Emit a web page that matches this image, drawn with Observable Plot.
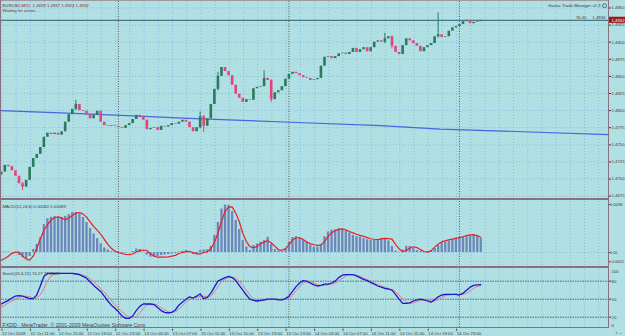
<!DOCTYPE html>
<html><head><meta charset="utf-8">
<script src="https://cdn.jsdelivr.net/npm/d3@7"></script>
<script src="https://cdn.jsdelivr.net/npm/@observablehq/plot@0.6"></script>
<style>
html,body{margin:0;padding:0;background:#b0dfe4;}
#chart{position:relative;width:625px;height:336px;overflow:hidden;background:#b0dfe4;}
.ln{position:absolute;background:#8b6f7e;}
</style></head><body><div id="chart"></div>
<script>
// ---------- data ----------
// EURUSD M15 chart, one entry per half hour starting 12 Oct 2009 07:30
const firstOpen = 1.4706;
const closes = [1.4710,1.4720,1.4718,1.4712,1.4704,1.4693,1.4688,1.4698,1.4717,1.4730,
 1.4736,1.4746,1.4761,1.4767,1.4765,1.4767,1.4764,1.4769,1.4783,1.4794,
 1.4802,1.4809,1.4800,1.4799,1.4794,1.4788,1.4793,1.4799,1.4783,1.4778,
 1.4777,1.4778,1.4777,1.4775,1.4774,1.4778,1.4781,1.4787,1.4793,1.4791,
 1.4786,1.4772,1.4774,1.4775,1.4771,1.4777,1.4776,1.4778,1.4781,1.4780,
 1.4783,1.4786,1.4783,1.4775,1.4769,1.4775,1.4791,1.4777,1.4788,1.4809,
 1.4831,1.4850,1.4863,1.4857,1.4851,1.4837,1.4824,1.4818,1.4812,1.4816,
 1.4815,1.4832,1.4834,1.4835,1.4847,1.4844,1.4816,1.4826,1.4829,1.4835,
 1.4846,1.4853,1.4856,1.4854,1.4851,1.4848,1.4847,1.4844,1.4845,1.4847,
 1.4865,1.4878,1.4879,1.4876,1.4879,1.4883,1.4884,1.4882,1.4885,1.4891,
 1.4885,1.4889,1.4892,1.4886,1.4892,1.4900,1.4902,1.4900,1.4905,1.4908,
 1.4894,1.4885,1.4882,1.4895,1.4905,1.4902,1.4898,1.4894,1.4886,1.4892,
 1.4895,1.4898,1.4908,1.4911,1.4907,1.4908,1.4916,1.4921,1.4923,1.4926,
 1.4930,1.4932,1.4927,1.4929,1.4930,1.4932];
// notable wicks: bar index, low, high
const wickBars = [6, 21, 56, 57, 61, 74, 76, 108, 110, 123];
const wickLows = [1.4683, 1.4800, 1.4773, 1.4768, 1.4829, 1.4843, 1.4812, 1.4898, 1.4890, 1.4906];
const wickHighs = [1.4695, 1.4815, 1.4798, 1.4793, 1.4856, 1.4858, 1.4845, 1.4913, 1.4909, 1.4943];
// MACD(12,24,6) main and signal, in units of 0.00001
const macdMain = [2,3,3,0,-6,-18,-30,-36,-24,18,
 48,89,167,201,210,215,210,209,215,226,
 238,238,229,209,179,143,110,83,51,27,
 15,5,1,-3,-4,-3,0,6,21,18,
 3,-15,-28,-28,-24,-18,-15,-12,-9,-6,
 3,7,12,0,-12,-9,12,15,16,36,
 101,179,259,283,280,244,191,137,72,33,
 12,42,51,61,72,91,48,18,10,6,
 24,60,89,94,85,72,63,45,32,32,
 48,95,122,134,135,141,137,125,116,101,
 94,91,82,76,72,72,76,82,77,69,
 36,9,2,15,36,36,24,12,6,2,
 2,9,24,42,57,61,66,77,85,89,
 91,94,100,104,101,82];
const macdSignal = [-46,-36,-22,-5,2,2,-22,-38,-46,-22,
 25,80,131,165,193,207,213,205,195,205,
 220,235,238,230,211,183,156,133,110,78,
 48,25,8,0,-6,-12,-12,-9,3,11,
 15,12,-8,-20,-28,-28,-28,-26,-22,-17,
 -6,0,4,7,0,-8,-8,0,4,22,
 60,115,185,245,270,272,235,185,115,65,
 35,28,35,52,62,70,58,38,18,13,
 22,45,75,88,88,78,63,53,46,42,
 44,66,95,118,130,138,141,135,125,117,
 109,102,96,89,82,79,77,81,84,83,
 80,48,22,5,12,25,34,30,17,6,
 2,10,32,50,63,69,75,80,85,89,
 94,101,105,106,101,89];
// Stochastic(24,6,12) main and signal
const stochMain = [42,45,48,52,55,56,55,53,51,51,
 57,72,88,93,93,93,93,93,93,93,
 93,92,91,88,85,79,73,68,63,55,
 47,40,35,29,22,18,18,22,31,38,
 42,42,42,41,36,31,28,27,28,32,
 40,45,50,54,52,55,59,51,53,60,
 70,80,83,86,88,86,81,73,65,57,
 50,48,47,48,49,50,50,50,49,49,
 51,55,63,71,77,81,80,77,74,72,
 73,75,75,77,80,86,90,91,91,91,
 89,86,83,81,78,75,72,70,68,67,
 65,58,50,43,43,44,47,49,50,49,
 47,45,49,54,57,58,58,58,58,57,
 60,65,70,73,74,74.27];
const stochSignal = [37,40,44,47,50,53,55,55,54,52,
 52,57,68,80,89,92,93,93,93,93,
 93,93,92,90,88,84,79,73,68,62,
 55,48,41,35,29,24,20,19,21,27,
 35,40,42,42,40,36,32,29,28,29,
 33,39,45,50,52,53,55,55,54,55,
 62,71,79,83,86,87,85,80,73,65,
 57,51,48,47,48,49,50,50,50,49,
 50,52,57,64,71,77,79,79,77,74,
 73,73,74,75,77,80,85,89,91,91,
 90,88,85,83,80,77,74,72,70,68,
 66,63,57,50,45,43,44,46,48,49,
 48,47,47,49,53,56,57,58,58,58,
 58,60,64,68,71,72.28];
// blue trend line: hours since 12 Oct 07:00, price
const trendHours = [0.4, 10.7, 17.3, 28.6, 41.2, 53.9, 62.3, 86.0];
const trendPrices = [1.4800, 1.4796, 1.4793, 1.4788, 1.4783, 1.4778, 1.4773, 1.4765];
// axes
const priceTicks = [1.4675,1.4700,1.4725,1.4750,1.4775,1.4800,1.4825,1.4850,1.4875,1.4900,1.4925,1.4950];
const macdTicks = [0.00286, 0, -0.00055];
const macdTickLabels = ["0.00286", "0.00", "-0.00055"];
const stochLevels = [80, 50, 20];
const labelHours = [0,4,8,12,16,20,24,28,32,36,40,44,48,52,56,60,64];
const labelTexts = ["12 Oct 2009","12 Oct 11:00","12 Oct 15:00","12 Oct 19:00","12 Oct 23:00",
 "13 Oct 03:00","13 Oct 07:00","13 Oct 11:00","13 Oct 15:00","13 Oct 19:00","13 Oct 23:00",
 "14 Oct 03:00","14 Oct 07:00","14 Oct 11:00","14 Oct 15:00","14 Oct 19:00","14 Oct 23:00"];
const separatorHours = [17, 41, 65]; // midnights
const headerText = "EURUSD,M15  1.4929 1.4937 1.4924 1.4932";
const statusText = "Waiting for action ...";
const managerText = "Gartac Trade Manager v1.3";
const tradeText = "76.40     1.4934";
const macdTitle = "MACD(12,24,6) 0.00082 0.00089";
const stochTitle = "Stoch(24,6,12) 74.27 72.2843";
const copyright = "FXDD - MetaTrader, \u00a9 2001-2009 MetaQuotes Software Corp.";

// ---------- build ----------
const W = 625, PW = 608, PXH = 7.104;
const x0 = 2.8 / PXH;
const xDomain = [x0, x0 + PW / PXH];
const GRID = "#86bfe6", SEP = "#5a5a5a", TXT = "#3c3c3c";
const BULL = "#2c7a5c", BEAR = "#e2457a";
const FONT = "Liberation Sans, Arial, sans-serif";
const FS = 4.3;
const gridHours = d3.range(0, 86, 2);
const lastClose = closes[closes.length - 1];

const bars = closes.map((c, i) => ({
  t: 0.5 * (i + 1), o: i ? closes[i - 1] : firstOpen, c,
  m: macdMain[i] / 1e5, s: macdSignal[i] / 1e5, k: stochMain[i], d: stochSignal[i]
}));
const wicks = wickBars.map((b, j) => ({t: bars[b].t, lo: wickLows[j], hi: wickHighs[j], up: bars[b].c >= bars[b].o}));
const trend = trendHours.map((t, i) => ({t, p: trendPrices[i]}));

const base = {
  width: W, marginLeft: 0, marginRight: W - PW,
  x: {domain: xDomain, axis: null},
  style: {background: "transparent", fontFamily: FONT, fontSize: FS + "px", overflow: "visible"}
};
const vgrid = () => [
  Plot.ruleX(gridHours, {dx: 4.3, stroke: GRID, strokeDasharray: "1,2"}),
  Plot.ruleX(separatorHours, {stroke: SEP, strokeDasharray: "1,1.5"})
];

const mainPlot = Plot.plot({
  ...base, height: 199, marginTop: 1, marginBottom: 1,
  y: {domain: [1.467149, 1.495950]},
  marks: [
    Plot.ruleY(priceTicks, {stroke: GRID, strokeDasharray: "1,2"}),
    ...vgrid(),
    Plot.line(trend, {x: "t", y: "p", stroke: "#4866e0", strokeWidth: 1.2}),
    Plot.ruleY([lastClose], {stroke: "#2f5f6a", strokeWidth: 1}),
    Plot.ruleX(wicks.filter(d => d.up), {x: "t", y1: "lo", y2: "hi", stroke: BULL, strokeWidth: 1}),
    Plot.ruleX(wicks.filter(d => !d.up), {x: "t", y1: "lo", y2: "hi", stroke: BEAR, strokeWidth: 1}),
    Plot.ruleX(bars.filter(d => d.c >= d.o), {x: "t", y1: "o", y2: "c", stroke: BULL, strokeWidth: 2.6}),
    Plot.ruleX(bars.filter(d => d.c < d.o), {x: "t", y1: "o", y2: "c", stroke: BEAR, strokeWidth: 2.6}),
    Plot.axisY(priceTicks, {anchor: "right", tickFormat: d3.format(".4f"), tickSize: 2, tickPadding: 1,
      fill: TXT, stroke: TXT, fontSize: FS}),
    Plot.rect([lastClose], {x1: xDomain[1], x2: xDomain[1] + 17 / PXH, y1: d => d - 0.00045, y2: d => d + 0.00045, fill: "#9b1b1b"}),
    Plot.text([lastClose], {x: xDomain[1], y: d => d, text: d => d.toFixed(4), dx: 3, textAnchor: "start", fill: "white", fontSize: FS}),
    Plot.text([tradeText], {x: xDomain[1], y: lastClose, dx: -3, dy: -3, textAnchor: "end", fill: TXT, fontSize: FS}),
    Plot.text([headerText], {frameAnchor: "top-left", dx: 2, dy: 2, textAnchor: "start", lineAnchor: "top", fill: "#7d2b2b", fontSize: FS}),
    Plot.text([statusText], {frameAnchor: "top-left", dx: 2, dy: 7.5, textAnchor: "start", lineAnchor: "top", fill: "#7d2b2b", fontSize: FS}),
    Plot.text([managerText], {frameAnchor: "top-right", dx: -8, dy: 2, textAnchor: "end", lineAnchor: "top", fill: TXT, fontSize: FS}),
    Plot.dot([managerText], {frameAnchor: "top-right", dx: -4, dy: 4.2, r: 2, stroke: TXT, strokeWidth: 0.7, fill: "none"})
  ]
});

const macdPlot = Plot.plot({
  ...base, height: 68, marginTop: 2, marginBottom: 1,
  y: {domain: [-0.000834, 0.003039]},
  marks: [
    Plot.ruleY([0], {stroke: GRID, strokeDasharray: "1,2"}),
    ...vgrid(),
    Plot.ruleX(bars, {x: "t", y1: 0, y2: "m", stroke: "#6f86b8", strokeWidth: 2.3}),
    Plot.line(bars, {x: "t", y: "s", stroke: "#ee1c24", strokeWidth: 1.2}),
    Plot.axisY(macdTicks, {anchor: "right", tickFormat: d => macdTickLabels[macdTicks.indexOf(d)], tickSize: 1.5, tickPadding: 0.5,
      fill: TXT, stroke: TXT, fontSize: 3.4}),
    Plot.text([macdTitle], {frameAnchor: "top-left", dx: 2, dy: 3, textAnchor: "start", lineAnchor: "top", fill: TXT, fontSize: FS})
  ]
});

const stochPlot = Plot.plot({
  ...base, height: 69, marginTop: 1.7, marginBottom: 7.3,
  y: {domain: [0, 100]},
  marks: [
    ...vgrid(),
    Plot.ruleY(stochLevels, {stroke: "#3d7262", strokeDasharray: "1.5,1"}),
    Plot.line(bars, {x: "t", y: "d", stroke: "#e8788a", strokeWidth: 1}),
    Plot.line(bars, {x: "t", y: "k", stroke: "#1a1acd", strokeWidth: 1.3}),
    Plot.axisY(stochLevels, {anchor: "right", tickSize: 2, tickPadding: 1, fill: TXT, stroke: TXT, fontSize: FS}),
    Plot.text([100], {x: xDomain[1], y: d => d, text: d => String(d), dx: 3, dy: 2, textAnchor: "start", fill: TXT, fontSize: FS}),
    Plot.text([0], {x: xDomain[1], y: d => d, text: d => String(d), dx: 3, dy: -3.5, textAnchor: "start", fill: TXT, fontSize: FS}),
    Plot.axisX(labelHours, {anchor: "bottom", tickFormat: d => labelTexts[labelHours.indexOf(d)], tickSize: 2, tickPadding: 1,
      textAnchor: "start", dx: 4.3, fill: TXT, stroke: TXT, fontSize: FS}),
    Plot.text([stochTitle], {frameAnchor: "top-left", dx: 2, dy: 2.5, textAnchor: "start", lineAnchor: "top", fill: TXT, fontSize: FS}),
    Plot.text([copyright], {frameAnchor: "bottom-left", dx: 2, dy: -2, textAnchor: "start", lineAnchor: "bottom", fill: "#444", fontSize: 5.2})
  ]
});

const chart = document.getElementById("chart");
[[mainPlot, 0], [macdPlot, 199], [stochPlot, 267]].forEach(([svg, top]) => {
  svg.style.position = "absolute"; svg.style.left = "0px"; svg.style.top = top + "px";
  chart.appendChild(svg);
});
// panel frame
[[0, 0, 609, 1, "#9c9aa0"], [0, 0, 1, 328, "#8b6f7e"], [608, 0, 1, 328, "#8b6f7e"],
 [0, 198, 609, 2, "#8b6f7e"], [0, 266, 609, 2, "#8b6f7e"], [0, 327, 609, 1, "#8b6f7e"]]
.forEach(([l, t, w, h, c]) => {
  const d = document.createElement("div");
  d.className = "ln";
  Object.assign(d.style, {left: l + "px", top: t + "px", width: w + "px", height: h + "px", background: c});
  chart.appendChild(d);
});
</script></body></html>
